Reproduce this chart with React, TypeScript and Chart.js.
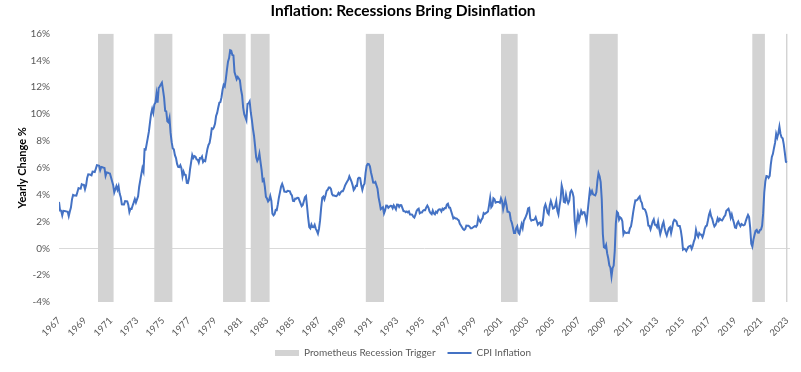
import React, { useEffect, useRef } from "react";
import { Chart, registerables } from "chart.js";

Chart.register(...registerables);

const START_YEAR = 1967;

// Monthly CPI yearly change (%), Jan 1967 onward
const cpi1967to1976 = [
  3.46, 2.81, 2.8, 2.45, 2.79, 2.78, 2.77, 2.75, 2.74, 2.4, 2.74, 3.04,
  3.65, 3.98, 3.94, 3.93, 3.92, 4.2, 4.49, 4.45, 4.44, 4.77, 4.73, 4.72,
  4.4, 4.69, 5.25, 5.52, 5.51, 5.48, 5.44, 5.71, 5.7, 5.68, 5.93, 6.2,
  6.18, 6.15, 5.82, 6.06, 6.04, 6.01, 5.98, 5.41, 5.66, 5.64, 5.6, 5.57,
  5.29, 5.0, 4.71, 4.16, 4.4, 4.64, 4.36, 4.62, 4.08, 3.81, 3.28, 3.27,
  3.27, 3.51, 3.5, 3.49, 3.23, 2.71, 2.95, 2.94, 3.19, 3.42, 3.67, 3.41,
  3.65, 3.87, 4.59, 5.06, 5.53, 5.98, 5.73, 7.38, 7.36, 7.8, 8.25, 8.71,
  9.39, 10.02, 10.39, 10.09, 10.71, 10.86, 11.51, 10.86, 11.95, 12.06, 12.2, 12.34,
  11.8, 11.23, 10.25, 10.21, 9.47, 9.39, 9.72, 8.6, 7.91, 7.44, 7.38, 6.94,
  6.72, 6.29, 6.07, 6.05, 6.2, 5.97, 5.35, 5.71, 5.49, 5.46, 4.88, 4.86,
];
const cpi1977to1986 = [
  5.22, 5.91, 6.44, 6.95, 6.73, 6.87, 6.83, 6.62, 6.6, 6.39, 6.72, 6.7,
  6.84, 6.43, 6.55, 6.5, 6.96, 7.41, 7.7, 7.86, 8.31, 8.93, 8.89, 9.02,
  9.28, 9.86, 10.09, 10.49, 10.85, 10.89, 11.26, 11.82, 12.18, 12.07, 12.61, 13.29,
  13.91, 14.18, 14.76, 14.73, 14.41, 14.38, 13.13, 12.87, 12.6, 12.77, 12.65, 12.52,
  11.83, 11.41, 10.49, 10.0, 9.78, 9.55, 10.76, 10.8, 10.95, 10.14, 9.59, 8.92,
  8.39, 7.62, 6.78, 6.51, 6.68, 7.06, 6.44, 5.85, 5.04, 5.14, 4.59, 3.83,
  3.71, 3.49, 3.6, 3.9, 3.55, 2.58, 2.46, 2.56, 2.86, 2.85, 3.27, 3.79,
  4.19, 4.6, 4.8, 4.56, 4.23, 4.22, 4.2, 4.29, 4.27, 4.26, 4.05, 3.95,
  3.53, 3.52, 3.7, 3.69, 3.77, 3.76, 3.55, 3.35, 3.14, 3.23, 3.51, 3.8,
  3.89, 3.11, 2.26, 1.59, 1.49, 1.77, 1.58, 1.57, 1.75, 1.47, 1.3, 1.1,
];
const cpi1987to1996 = [
  1.46, 2.1, 3.03, 3.78, 3.86, 3.65, 3.93, 4.28, 4.36, 4.53, 4.53, 4.43,
  4.05, 3.94, 3.93, 3.9, 3.89, 3.96, 4.13, 4.02, 4.17, 4.25, 4.25, 4.42,
  4.67, 4.83, 4.98, 5.11, 5.36, 5.17, 4.98, 4.71, 4.34, 4.46, 4.66, 4.65,
  5.2, 5.26, 5.23, 4.71, 4.36, 4.67, 4.82, 5.62, 6.16, 6.29, 6.27, 6.11,
  5.65, 5.31, 4.9, 4.89, 4.95, 4.7, 4.45, 3.8, 3.39, 2.92, 2.99, 3.06,
  2.6, 2.82, 3.19, 3.18, 3.02, 3.09, 3.16, 3.15, 2.99, 3.2, 3.05, 2.9,
  3.26, 3.25, 3.09, 3.23, 3.22, 3.0, 2.78, 2.77, 2.69, 2.75, 2.68, 2.75,
  2.52, 2.52, 2.51, 2.36, 2.29, 2.49, 2.77, 2.9, 2.96, 2.61, 2.67, 2.67,
  2.8, 2.86, 2.85, 3.05, 3.19, 3.04, 2.76, 2.62, 2.54, 2.81, 2.61, 2.54,
  2.73, 2.65, 2.84, 2.9, 2.89, 2.75, 2.95, 2.88, 3.0, 2.99, 3.26, 3.32,
];
const cpi1997to2006 = [
  3.04, 3.03, 2.76, 2.5, 2.23, 2.3, 2.23, 2.23, 2.15, 2.08, 1.83, 1.7,
  1.57, 1.44, 1.37, 1.44, 1.69, 1.68, 1.68, 1.62, 1.49, 1.49, 1.55, 1.61,
  1.67, 1.61, 1.73, 2.28, 2.09, 1.96, 2.14, 2.26, 2.63, 2.56, 2.62, 2.68,
  2.74, 3.22, 3.76, 3.07, 3.19, 3.73, 3.66, 3.41, 3.45, 3.45, 3.45, 3.39,
  3.73, 3.53, 2.92, 3.27, 3.62, 3.25, 2.72, 2.72, 2.65, 2.13, 1.9, 1.55,
  1.14, 1.14, 1.48, 1.64, 1.18, 1.07, 1.46, 1.8, 1.51, 2.03, 2.2, 2.38,
  2.6, 2.98, 3.02, 2.22, 2.06, 2.11, 2.11, 2.16, 2.32, 2.04, 1.77, 1.88,
  1.93, 1.69, 1.74, 2.29, 3.05, 3.27, 2.99, 2.65, 2.54, 3.19, 3.52, 3.26,
  2.97, 3.01, 3.15, 3.51, 2.8, 2.53, 3.17, 3.64, 4.69, 4.35, 3.46, 3.42,
  3.99, 3.6, 3.36, 3.55, 4.17, 4.32, 4.15, 3.82, 2.06, 1.31, 1.97, 2.54,
];
const cpi2007to2016 = [
  2.08, 2.42, 2.78, 2.57, 2.69, 2.69, 2.36, 1.97, 2.76, 3.54, 4.31, 4.08,
  4.28, 4.03, 3.98, 3.94, 4.18, 5.02, 5.6, 5.37, 4.94, 3.66, 1.07, 0.09,
  0.03, 0.24, -0.38, -0.74, -1.28, -1.43, -2.1, -1.48, -1.29, -0.18, 1.84, 2.72,
  2.63, 2.14, 2.31, 2.24, 2.02, 1.05, 1.24, 1.15, 1.14, 1.17, 1.14, 1.5,
  1.63, 2.11, 2.68, 3.16, 3.57, 3.56, 3.63, 3.77, 3.87, 3.53, 3.39, 2.96,
  2.93, 2.87, 2.65, 2.3, 1.7, 1.66, 1.41, 1.69, 1.99, 2.16, 1.76, 1.74,
  1.59, 1.98, 1.47, 1.06, 1.36, 1.75, 1.96, 1.52, 1.18, 0.96, 1.24, 1.5,
  1.58, 1.13, 1.51, 1.95, 2.13, 2.07, 1.99, 1.7, 1.66, 1.66, 1.32, 0.76,
  -0.09, -0.03, -0.07, -0.2, -0.04, 0.12, 0.17, 0.2, -0.04, 0.17, 0.5, 0.73,
  1.37, 1.02, 0.85, 1.13, 1.02, 1.01, 0.83, 1.06, 1.46, 1.64, 1.69, 2.07,
];
const cpi2017to2023 = [
  2.5, 2.74, 2.38, 2.2, 1.87, 1.63, 1.73, 1.94, 2.23, 2.04, 2.2, 2.11,
  2.07, 2.21, 2.36, 2.46, 2.8, 2.87, 2.95, 2.7, 2.28, 2.52, 2.18, 1.91,
  1.55, 1.52, 1.86, 2.0, 1.79, 1.65, 1.81, 1.75, 1.71, 1.76, 2.05, 2.29,
  2.49, 2.33, 1.54, 0.33, 0.12, 0.65, 0.99, 1.31, 1.37, 1.18, 1.17, 1.36,
  1.4, 1.68, 2.62, 4.16, 4.99, 5.39, 5.37, 5.25, 5.39, 6.22, 6.81, 7.04,
  7.48, 7.87, 8.54, 8.26, 8.58, 9.06, 8.52, 8.26, 8.2, 7.75, 7.11, 6.45,
  6.41,
];

// Recession trigger periods (decimal years)
const recessionStart = [1970.0, 1974.33, 1979.62, 1981.75, 1990.6, 2001.0, 2007.8, 2020.33, 2022.92];
const recessionEnd = [1971.2, 1975.72, 1981.36, 1983.2, 1992.0, 2002.28, 2009.98, 2021.3, 2023.05];

const tickYears = [
  1967, 1969, 1971, 1973, 1975, 1977, 1979, 1981, 1983, 1985, 1987, 1989, 1991, 1993, 1995,
  1997, 1999, 2001, 2003, 2005, 2007, 2009, 2011, 2013, 2015, 2017, 2019, 2021, 2023,
];

const Y_MIN = -4;
const Y_MAX = 16;
const X_MAX = 2023.23;

const FONT = "Lato, 'Open Sans', sans-serif";

export default function App() {
  const canvasRef = useRef<HTMLCanvasElement | null>(null);

  useEffect(() => {
    const canvas = canvasRef.current;
    if (!canvas) return;

    const cpiAll = [
      ...cpi1967to1976,
      ...cpi1977to1986,
      ...cpi1987to1996,
      ...cpi1997to2006,
      ...cpi2007to2016,
      ...cpi2017to2023,
    ];
    const cpiPoints = cpiAll.map((v, i) => ({ x: START_YEAR + i / 12, y: v }));

    const recessionPoints: { x: number; y: number }[] = [];
    recessionStart.forEach((s, i) => {
      const e = recessionEnd[i];
      recessionPoints.push({ x: s, y: Y_MIN }, { x: s, y: Y_MAX }, { x: e, y: Y_MAX }, { x: e, y: Y_MIN });
    });

    const chart = new Chart(canvas, {
      type: "line",
      data: {
        datasets: [
          {
            label: "CPI Inflation",
            data: cpiPoints,
            borderColor: "#4472c4",
            backgroundColor: "#4472c4",
            borderWidth: 2,
            pointRadius: 0,
            tension: 0,
            fill: false,
            pointStyle: "line",
          } as any,
          {
            label: "Prometheus Recession Trigger",
            data: recessionPoints,
            borderColor: "rgba(0,0,0,0)",
            backgroundColor: "#d3d3d3",
            borderWidth: 0,
            pointRadius: 0,
            tension: 0,
            fill: { value: Y_MIN },
            pointStyle: "rect",
          } as any,
        ],
      },
      options: {
        animation: false,
        responsive: false,
        maintainAspectRatio: false,
        layout: { padding: { left: 16, right: 11, top: 0, bottom: 4 } },
        plugins: {
          title: {
            display: true,
            text: "Inflation: Recessions Bring Disinflation",
            color: "#000",
            font: { family: FONT, size: 15.5, weight: "bold" },
            padding: { top: 2, bottom: 13 },
          },
          legend: {
            display: true,
            position: "bottom",
            reverse: true,
            labels: {
              usePointStyle: true,
              pointStyleWidth: 24,
              boxHeight: 6,
              color: "#595959",
              font: { family: FONT, size: 10 },
              padding: 12,
            },
          },
          tooltip: { enabled: false },
        },
        scales: {
          x: {
            type: "linear",
            min: START_YEAR,
            max: X_MAX,
            afterBuildTicks: (scale: any) => {
              scale.ticks = tickYears.map((v) => ({ value: v }));
            },
            afterFit: (scale: any) => {
              scale.height = 34;
            },
            grid: { display: false, drawTicks: true, tickLength: 13 },
            border: { display: false },
            ticks: {
              autoSkip: false,
              minRotation: 45,
              maxRotation: 45,
              padding: 0,
              color: "#595959",
              font: { family: FONT, size: 9.5 },
              callback: (v: any) => String(v),
            },
          },
          y: {
            min: Y_MIN,
            max: Y_MAX,
            border: { display: false },
            afterFit: (scale: any) => {
              scale.width = 43;
            },
            grid: {
              drawTicks: false,
              color: (ctx: any) => (ctx.tick && ctx.tick.value === 0 ? "#d9d9d9" : "rgba(0,0,0,0)"),
              lineWidth: 1,
            },
            ticks: {
              stepSize: 2,
              padding: 9,
              color: "#595959",
              font: { family: FONT, size: 10 },
              callback: (v: any) => `${v}%`,
            },
            title: {
              display: true,
              text: "Yearly Change %",
              color: "#000",
              font: { family: FONT, size: 11, weight: "bold" },
              padding: { top: 0, bottom: 4 },
            },
          },
        },
      } as any,
    });

    return () => chart.destroy();
  }, []);

  return (
    <div style={{ position: "fixed", left: 0, top: 0, width: 801, height: 372, background: "#fff" }}>
      <canvas ref={canvasRef} width={801} height={372} style={{ display: "block", width: 801, height: 372 }} />
    </div>
  );
}
